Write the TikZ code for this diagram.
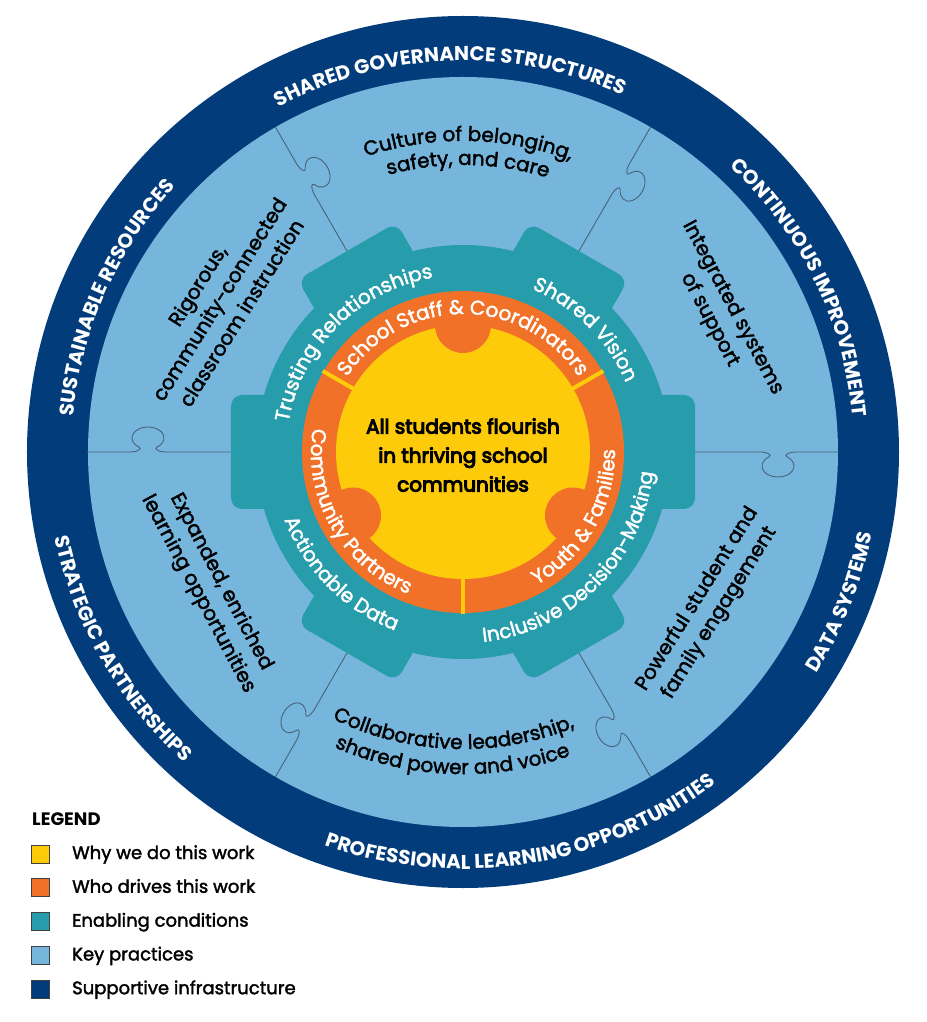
\documentclass[tikz,border=0pt]{standalone}
\usepackage{fontspec}
\setmainfont{Poppins}
\newfontfamily\mediumfont{Poppins}[FakeBold=2]
\newfontfamily\semifont{Poppins}[FakeBold=5]
\usetikzlibrary{decorations.text}

\definecolor{infrablue}{RGB}{2,60,122}
\definecolor{practiceblue}{RGB}{118,182,221}
\definecolor{gearteal}{RGB}{39,156,171}
\definecolor{driverorange}{RGB}{240,113,39}
\definecolor{whyyellow}{RGB}{253,203,10}
\definecolor{seamgray}{RGB}{72,98,118}

\newcommand{\capsfont}{\fontsize{20}{24}\selectfont\bfseries\color{white}}
\newcommand{\gearfont}{\mediumfont\fontsize{20}{24}\selectfont\color{white}}
\newcommand{\practicefont}{\mediumfont\fontsize{20}{24}\selectfont\color{black}}

\newcommand{\arclabel}[5]{%
  \path [decorate, decoration={text along path, text align=center,
    text={|#4|#5}}] (#2:#1) arc [start angle=#2, end angle=#3, radius=#1];}

\newcommand{\seam}[1]{%
  \draw [seamgray, line width=0.9pt, rotate=#1] (232,0) -- (298,0)
    .. controls (304,0) and (309.7,-3.1) .. (305.8,-5)
    arc [start angle=-235, end angle=55, x radius=16, y radius=11]
    .. controls (320.3,-3.1) and (326,0) .. (332,0) -- (375,0);}

\begin{document}
\begin{tikzpicture}[x=1pt,y=1pt]
    \tikzstyle{every node}+=[inner sep=0pt]
    \tikzstyle{practice text}=[align=center, font=\mediumfont\fontsize{20}{26}\selectfont, text=black]
    \tikzstyle{legend box}=[draw=black!75, line width=1pt, minimum size=18pt]
    \tikzstyle{legend text}=[anchor=base west, font=\mediumfont\fontsize{18}{22}\selectfont]
    \useasboundingbox (-463,-570) rectangle (463,452);
    \node [circle, fill=infrablue, minimum size=872pt] (infra) at (0,0) {};
    \node [circle, fill=practiceblue, minimum size=750pt] (practice) at (0,0) {};
    \seam{0}
    \seam{60}
    \seam{120}
    \seam{180}
    \seam{240}
    \seam{300}
    \node [circle, fill=gearteal, minimum size=414pt] (gear) at (0,0) {};
    \fill [gearteal, rounded corners=11pt, rotate=0] (180,-57) rectangle (232,57);
    \fill [gearteal, rounded corners=11pt, rotate=60] (180,-57) rectangle (232,57);
    \fill [gearteal, rounded corners=11pt, rotate=120] (180,-57) rectangle (232,57);
    \fill [gearteal, rounded corners=11pt, rotate=180] (180,-57) rectangle (232,57);
    \fill [gearteal, rounded corners=11pt, rotate=240] (180,-57) rectangle (232,57);
    \fill [gearteal, rounded corners=11pt, rotate=300] (180,-57) rectangle (232,57);
    \node [circle, fill=driverorange, minimum size=322pt] (drivers) at (0,0) {};
    \node [circle, fill=whyyellow, minimum size=254pt] (why) at (0,0) {};
    \node [circle, fill=driverorange, minimum size=56pt] (bumptop) at (90:127) {};
    \node [circle, fill=driverorange, minimum size=56pt] (bumpleft) at (210:127) {};
    \node [circle, fill=driverorange, minimum size=56pt] (bumpright) at (330:127) {};
    \draw [whyyellow, line width=4pt] (30:125) -- (30:162);
    \draw [whyyellow, line width=4pt] (150:125) -- (150:162);
    \draw [whyyellow, line width=4pt] (270:125) -- (270:162);
    \arclabel{391}{162}{22}{\capsfont}{SHARED GOVERNANCE STRUCTURES}
    \arclabel{391}{96}{-44}{\capsfont}{CONTINUOUS IMPROVEMENT}
    \arclabel{391}{226}{86}{\capsfont}{SUSTAINABLE RESOURCES}
    \arclabel{417}{-91.7}{48.3}{\capsfont}{DATA SYSTEMS}
    \arclabel{417}{209}{349}{\capsfont}{PROFESSIONAL LEARNING OPPORTUNITIES}
    \arclabel{417}{140}{280}{\capsfont}{STRATEGIC PARTNERSHIPS}
    \arclabel{177}{205}{65}{\gearfont}{Trusting Relationships}
    \arclabel{177}{115}{-25}{\gearfont}{Shared Vision}
    \arclabel{191}{-115}{25}{\gearfont}{Inclusive Decision-Making}
    \arclabel{191}{155}{295}{\gearfont}{Actionable Data}
    \arclabel{138}{170}{10}{\gearfont}{School Staff {\&} Coordinators}
    \arclabel{152}{-100}{40}{\gearfont}{Youth {\&} Families}
    \arclabel{152}{140}{280}{\gearfont}{Community Partners}
    \arclabel{311}{159}{19}{\practicefont}{Culture of belonging,}
    \arclabel{287}{159}{19}{\practicefont}{safety, and care}
    \arclabel{297}{198}{338}{\practicefont}{Collaborative leadership,}
    \arclabel{322}{198}{338}{\practicefont}{shared power and voice}
    \node [practice text, rotate=58] (rigorous) at (-244,153) {Rigorous,\\community-connected\\classroom instruction};
    \node [practice text, rotate=-62] (integrated) at (258,138) {Integrated systems\\of support};
    \node [practice text, rotate=58] (powerful) at (245.5,-154) {Powerful student and\\family engagement};
    \node [practice text, rotate=-62] (expanded) at (-253.5,-136) {Expanded, enriched\\learning opportunities};
    \node [align=center, font=\semifont\fontsize{20}{29}\selectfont] (flourish) at (0,-3) {All students flourish\\in thriving school\\communities};
    \node [anchor=base west, font=\fontsize{18}{22}\selectfont\bfseries] (legend) at (-431,-373) {LEGEND};
    \node [legend box, fill=whyyellow] (keywhy) at (-422,-402) {};
    \node [legend text] (labelwhy) at (-391,-407) {Why we do this work};
    \node [legend box, fill=driverorange] (keywho) at (-422,-435.8) {};
    \node [legend text] (labelwho) at (-391,-440.8) {Who drives this work};
    \node [legend box, fill=gearteal] (keyenable) at (-422,-469.6) {};
    \node [legend text] (labelenable) at (-391,-474.6) {Enabling conditions};
    \node [legend box, fill=practiceblue] (keypractice) at (-422,-503.4) {};
    \node [legend text] (labelpractice) at (-391,-508.4) {Key practices};
    \node [legend box, fill=infrablue] (keyinfra) at (-422,-537.2) {};
    \node [legend text] (labelinfra) at (-391,-542.2) {Supportive infrastructure};
\end{tikzpicture}
\end{document}
